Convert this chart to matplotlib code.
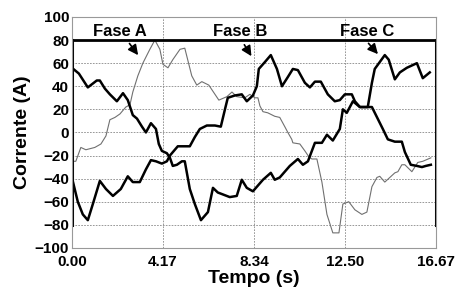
import numpy as np
import matplotlib
matplotlib.use("Agg")
import matplotlib.pyplot as plt

plt.rcParams["font.family"] = ["Liberation Sans", "DejaVu Sans"]
plt.rcParams["font.weight"] = "bold"

# Fase A (thin grey line)
tA = [0.00, 0.18, 0.41, 0.64, 1.05, 1.33, 1.56, 1.74, 1.97, 2.20, 2.47, 2.66, 2.79, 3.02, 3.25,
      3.57, 3.80, 4.03, 4.17, 4.40, 4.62, 4.95, 5.17, 5.49, 5.72, 5.95, 6.27, 6.73, 7.10, 7.33,
      7.55, 7.92, 8.15, 8.38, 8.52, 8.61, 8.75, 8.97, 9.29, 9.52, 9.75, 9.89, 10.07, 10.12, 10.44,
      10.67, 10.85, 10.99, 11.22, 11.45, 11.68, 11.95, 12.23, 12.41, 12.68, 12.96, 13.28, 13.51,
      13.74, 13.97, 14.10, 14.33, 14.56, 14.79, 14.93, 15.11, 15.25, 15.57, 15.84, 16.07, 16.44]
iA = [-25, -25, -13, -15, -13, -10, -3, 11, 13, 16, 22, 24, 35, 49, 60,
      72, 80, 72, 59, 56, 63, 72, 73, 49, 41, 44, 41, 28, 31, 35,
      31, 30, 33, 30, 30, 23, 18, 17, 14, 13, 5, 0, -6, -9, -10,
      -16, -21, -23, -23, -43, -71, -87, -87, -62, -60, -67, -71, -69,
      -47, -39, -38, -43, -39, -35, -34, -28, -28, -34, -26, -25, -22]

# Fase B (thick black, starts near -40)
tB = [0.00, 0.27, 0.50, 0.73, 0.96, 1.28, 1.56, 1.88, 2.24, 2.56, 2.79, 3.11, 3.39, 3.62, 3.85,
      4.12, 4.35, 4.49, 4.85, 5.40, 5.63, 5.86, 6.18, 6.55, 6.82, 7.01, 7.14, 7.46, 7.78, 8.01,
      8.29, 8.47, 8.56, 8.84, 9.11, 9.39, 9.62, 9.89, 10.12, 10.35, 10.67, 10.90, 11.13, 11.40,
      11.72, 12.04, 12.27, 12.50, 12.82, 12.96, 13.19, 13.74, 14.24, 14.47, 14.79, 15.11, 15.25,
      15.52, 15.80, 16.03, 16.21, 16.44]
iB = [-39, -60, -71, -76, -62, -42, -49, -55, -49, -38, -43, -43, -32, -24, -25,
      -27, -25, -20, -12, -12, -4, 3, 6, 6, 5, 20, 30, 32, 33, 27,
      32, 40, 55, 61, 67, 55, 40, 48, 55, 54, 43, 39, 44, 44,
      33, 27, 28, 33, 33, 27, 22, 22, 3, -6, -8, -8, -17,
      -28, -29, -30, -29, -28]

# Fase C (thick black, starts near 55)
tC = [0.00, 0.32, 0.73, 1.14, 1.28, 1.51, 1.74, 2.06, 2.34, 2.56, 2.79, 2.98, 3.21, 3.39, 3.62,
      3.85, 3.98, 4.12, 4.35, 4.49, 4.62, 4.81, 5.04, 5.17, 5.40, 5.63, 5.91, 6.23, 6.46, 6.68,
      7.23, 7.55, 7.78, 8.01, 8.29, 8.75, 9.11, 9.29, 9.52, 9.98, 10.35, 10.58, 10.81, 11.13,
      11.45, 11.68, 11.95, 12.27, 12.41, 12.59, 12.87, 13.19, 13.55, 13.74, 13.87, 14.10, 14.33,
      14.51, 14.79, 15.02, 15.34, 15.80, 16.07, 16.39]
iC = [56, 51, 39, 45, 45, 38, 33, 27, 34, 28, 15, 12, 5, 0, 8,
      3, -10, -16, -18, -22, -29, -28, -25, -25, -49, -62, -76, -69, -48, -52,
      -56, -55, -41, -48, -51, -41, -35, -41, -39, -29, -23, -28, -25, -9,
      -9, -2, -7, 3, 20, 17, 27, 22, 22, 43, 55, 61, 67,
      63, 46, 52, 56, 60, 47, 52]

xticks = [0.00, 4.17, 8.34, 12.50, 16.67]
xlabels = ["0.00", "4.17", "8.34", "12.50", "16.67"]
yticks = list(range(-100, 101, 20))

fig = plt.figure(figsize=(4.55, 2.93), dpi=100)
ax = fig.add_axes([0.158, 0.154, 0.800, 0.788])

ax.plot(tA, iA, color="#707070", lw=0.8)
ax.plot(tB, iB, color="black", lw=1.8)
ax.plot(tC, iC, color="black", lw=1.8)

# thick frame pieces
ax.axhline(80, color="black", lw=2)
ax.axvline(0, ymin=0.1, ymax=0.9, color="black", lw=2.2)
ax.axvline(16.67, ymin=0.1, ymax=0.9, color="black", lw=2.2)

ax.set_xlim(0, 16.67)
ax.set_ylim(-100, 100)
ax.set_xticks(xticks)
ax.set_xticklabels(xlabels)
ax.set_yticks(yticks)
ax.tick_params(axis="y", length=0, labelsize=11, pad=2)
ax.tick_params(axis="x", length=0, labelsize=11, pad=5)
for lab in ax.get_xticklabels() + ax.get_yticklabels():
    lab.set_fontweight("bold")
ax.grid(True, color="#888888", lw=0.6, linestyle=(0, (2, 1.5)))
ax.set_axisbelow(True)
for s in ax.spines.values():
    s.set_color("#999999")
    s.set_linewidth(0.8)

ax.set_xlabel("Tempo (s)", fontsize=14, fontweight="bold", labelpad=1)
ax.set_ylabel("Corrente (A)", fontsize=14, fontweight="bold", labelpad=3)

arrow = dict(arrowstyle="-|>", color="black", lw=1.2, mutation_scale=15)
ax.annotate("", xy=(3.11, 65), xytext=(2.56, 79), arrowprops=arrow)
ax.annotate("", xy=(8.29, 64), xytext=(7.83, 78), arrowprops=arrow)
ax.annotate("", xy=(14.1, 66), xytext=(13.5, 79), arrowprops=arrow)
ax.text(2.2, 87.5, "Fase A", ha="center", va="center", fontsize=12, fontweight="bold")
ax.text(7.7, 87.5, "Fase B", ha="center", va="center", fontsize=12, fontweight="bold")
ax.text(13.5, 87.5, "Fase C", ha="center", va="center", fontsize=12, fontweight="bold")

fig.savefig("out.png", dpi=100)
